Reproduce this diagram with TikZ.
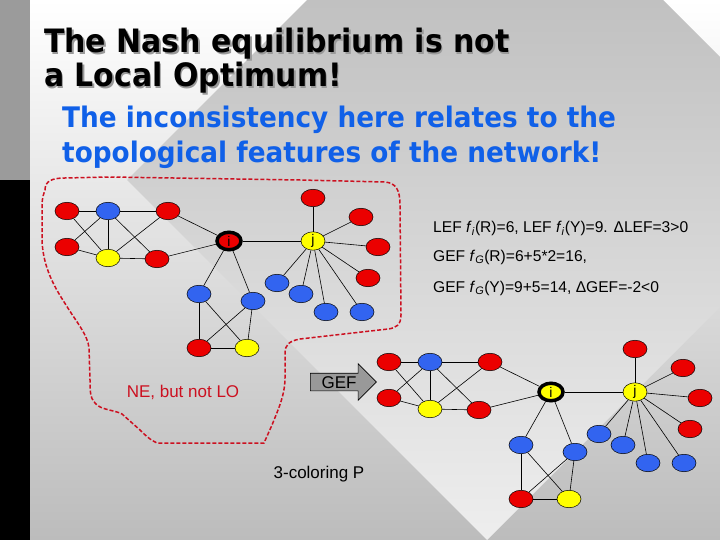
\documentclass[tikz,border=0pt]{standalone}
\usepackage{fontspec}
\setmainfont{Liberation Sans}
\newfontfamily\headfont[FakeStretch=0.93]{DejaVu Sans Bold}
\usepackage{tikz}
\usetikzlibrary{shapes.geometric,shapes.arrows}
\definecolor{nodered}{RGB}{235,0,0}
\definecolor{nodeblue}{RGB}{50,100,240}
\definecolor{nodeyellow}{RGB}{255,255,0}
\definecolor{subblue}{RGB}{16,96,232}
\definecolor{nered}{RGB}{204,16,32}
\definecolor{arrowgray}{RGB}{153,153,153}
\definecolor{stripgray}{RGB}{155,155,155}
\definecolor{bglow}{RGB}{188,188,188}
\definecolor{bandtop}{RGB}{178,178,178}
\definecolor{bandlow}{RGB}{238,238,238}
\tikzset{
	vtx/.style={ellipse, draw=black, line width=0.5pt, minimum width=24pt, minimum height=17.5pt, inner sep=0pt},
	rv/.style={vtx, fill=nodered},
	bv/.style={vtx, fill=nodeblue},
	yv/.style={vtx, fill=nodeyellow},
	ring/.style={line width=3.5pt, font=\fontsize{14}{14}\selectfont},
	edge/.style={black, line width=0.6pt},
	info/.style={anchor=base west, inner sep=0pt, font=\fontsize{15.6}{15.6}\selectfont},
	titletext/.style={anchor=base west, inner sep=0pt, font=\headfont\fontsize{32.2}{32.2}\selectfont},
	subtext/.style={anchor=base west, inner sep=0pt, text=subblue, font=\headfont\fontsize{28.3}{28.3}\selectfont},
	gefarrow/.style={single arrow, draw=black, fill=arrowgray, line width=0.6pt, minimum height=66pt,
		single arrow head extend=9.5pt, single arrow head indent=0pt, inner sep=2.5pt,
		text height=12pt, text depth=0pt, font=\fontsize{17}{17}\selectfont}
}
% prefix, shift x, shift y, style of node i
\newcommand{\network}[4] {
	\begin{scope}[shift={(#2,#3)}]
		\node[rv] (#1ra) at (67,211) {};
		\node[bv] (#1ba) at (108,211) {};
		\node[rv] (#1rb) at (168,211) {};
		\node[rv] (#1rc) at (67,247) {};
		\node[yv] (#1ya) at (108,258) {};
		\node[rv] (#1rd) at (157,259) {};
		\node[#4, ring] (#1i) at (229,241) {i};
		\node[yv, font=\fontsize{14}{14}\selectfont] (#1j) at (313,241) {j};
		\node[rv] (#1re) at (313,198) {};
		\node[rv] (#1rf) at (361,217) {};
		\node[rv] (#1rg) at (378,247) {};
		\node[rv] (#1rh) at (368,278) {};
		\node[bv] (#1bb) at (277,283) {};
		\node[bv] (#1bc) at (301,294) {};
		\node[bv] (#1bd) at (326,312) {};
		\node[bv] (#1be) at (362,312) {};
		\node[bv] (#1bf) at (199,294) {};
		\node[bv] (#1bg) at (253,301) {};
		\node[rv] (#1ri) at (199,348) {};
		\node[yv] (#1yb) at (247,348) {};
		\foreach \a/\b in {ra/ba, ra/ya, rc/ba, rc/ya, ba/ya, ba/rb, ba/rd, rb/ya, ya/rd,
			rb/i, rd/i, i/j, i/bf, i/bg, bf/ri, bf/yb, bg/ri, bg/yb, ri/yb,
			j/re, j/rf, j/rg, j/rh, j/bb, j/bc, j/bd, j/be}
			\draw[edge] (#1\a) -- (#1\b);
	\end{scope}
}

\begin{document}
\begin{tikzpicture}[x=1pt,y=-1pt]
		\useasboundingbox (0,0) rectangle (720,540);
		\clip (0,0) rectangle (720,540);

		% Background
		\shade[top color=white, bottom color=bglow] (30,0) rectangle (720,540);
		\shade[top color=bandtop, bottom color=bandlow] (127,180) -- (485,-178) -- (845,182) -- (487,540) -- cycle;
		\fill[stripgray] (0,0) rectangle (30,180);
		\fill[black] (0,180) rectangle (30,540);

		% Headings
		\node[titletext, text=black!40] (title1s) at (45.5,54.5) {The Nash equilibrium is not};
		\node[titletext, text=black!40] (title2s) at (45.5,88.5) {a Local Optimum!};
		\node[titletext] (title1) at (44,53) {The Nash equilibrium is not};
		\node[titletext] (title2) at (44,87) {a Local Optimum!};
		\node[subtext] (sub1) at (62,128) {The inconsistency here relates to the};
		\node[subtext] (sub2) at (62,163) {topological features of the network!};

		% NE region
		\draw[nered, line width=1.5pt, dash pattern=on 4pt off 2pt]
			(45,190) .. controls (45,181) and (52,178) .. (65,178) -- (110,177) -- (300,180) -- (385,182)
			.. controls (396,183) and (400,190) .. (400,205) -- (401,315)
			.. controls (401,325) and (396,328) .. (388,329) -- (300,339)
			.. controls (289,341) and (285,345) .. (285,353) -- (285,378)
			.. controls (285,395) and (278,410) .. (272,425) -- (264,443) -- (157,443)
			.. controls (150,440) and (145,435) .. (140,430) -- (122,414)
			.. controls (115,410) and (100,410) .. (95,403)
			.. controls (90,398) and (90,390) .. (90,380) -- (89,348)
			.. controls (88,335) and (75,320) .. (66,305)
			.. controls (55,288) and (43,268) .. (42,240) -- (42,205)
			.. controls (42,198) and (44,193) .. cycle;

		% Networks
		\network{ne}{0}{0}{rv}
		\network{lo}{322}{151}{yv}

		% Texts
		\node[info] (lef) at (433,233) {LEF \textit{f}\textsubscript{\textit{i}}(R)=6, LEF \textit{f}\textsubscript{\textit{i}}(Y)=9. ΔLEF=3>0};
		\node[info] (gefr) at (433,261) {GEF \textit{f}\textsubscript{\textit{G}}(R)=6+5*2=16,};
		\node[info] (gefy) at (433,292) {GEF \textit{f}\textsubscript{\textit{G}}(Y)=9+5=14, ΔGEF=-2<0};
		\node[info, anchor=base, text=nered, font=\fontsize{17}{17}\selectfont] (nelabel) at (183,397) {NE, but not LO};
		\node[info, anchor=base, font=\fontsize{17}{17}\selectfont] (plabel) at (319,478) {3-coloring P};
		\node[gefarrow] (gef) at (339,382) {GEF};

\end{tikzpicture}
\end{document}
